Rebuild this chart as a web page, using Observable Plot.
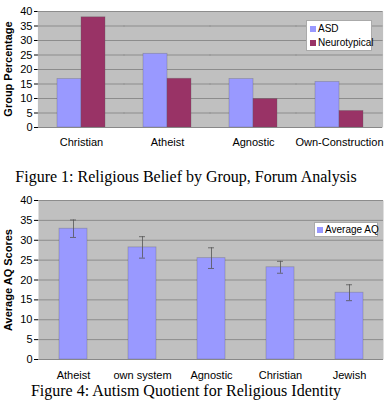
<!DOCTYPE html>
<html><head><meta charset="utf-8">
<script src="https://cdn.jsdelivr.net/npm/d3@7"></script>
<script src="https://cdn.jsdelivr.net/npm/@observablehq/plot@0.6"></script>
<style>
body{margin:0;background:#fff;}
#wrap{position:relative;width:390px;height:400px;overflow:hidden;font-family:"Liberation Sans",Arial,sans-serif;color:#000;}
.abs{position:absolute;}
.cap{font-family:"Liberation Serif","Times New Roman",serif;font-size:16px;white-space:nowrap;text-align:center;width:372px;left:0;line-height:18px;}
.ylab{font-weight:bold;font-size:11px;white-space:nowrap;transform:translate(-50%,-50%) rotate(-90deg);}
.legend{background:#fff;border:1px solid #aaa;font-size:10px;box-sizing:border-box;padding:1px 3px;line-height:14px;white-space:nowrap;}
.legend .sw{display:inline-block;width:6px;height:6px;margin-right:2px;vertical-align:0px;}
svg{overflow:visible}
</style></head>
<body><div id="wrap"></div>
<script>
// Figure 1 data
const beliefCategories = ["Christian", "Atheist", "Agnostic", "Own-Construction"];
const groups = ["ASD", "Neurotypical"];
const asdValues = [16.7, 25.4, 16.7, 15.7];
const neurotypicalValues = [38, 16.8, 9.8, 5.7];
const groupColors = ["#9999ff", "#993366"];
// Figure 4 data
const identityCategories = ["Atheist", "own system", "Agnostic", "Christian", "Jewish"];
const aqMeans = [32.9, 28.2, 25.5, 23.2, 16.8];
const aqErrors = [2.2, 2.7, 2.6, 1.5, 2.0];
const yTicks = [0, 5, 10, 15, 20, 25, 30, 35, 40];

const wrap = document.getElementById("wrap");
const font = {fontSize: "11px", fontFamily: "'Liberation Sans', Arial, sans-serif"};

function place(el, left, top) {
  el.classList.add("abs");
  el.style.left = left + "px";
  el.style.top = top + "px";
  wrap.appendChild(el);
  return el;
}

// ---------- Figure 1 ----------
const table1 = [];
beliefCategories.forEach((c, i) => {
  table1.push({category: c, group: groups[0], value: asdValues[i]});
  table1.push({category: c, group: groups[1], value: neurotypicalValues[i]});
});

const chart1 = Plot.plot({
  width: 390, height: 152,
  marginLeft: 37, marginRight: 8, marginTop: 11, marginBottom: 25,
  style: {...font, background: "transparent", color: "#000"},
  fx: {domain: beliefCategories, paddingInner: 0, paddingOuter: 0, axis: "bottom", tickSize: 0, tickPadding: 11, label: null},
  x: {domain: groups, paddingInner: 0, paddingOuter: 0.79, axis: null},
  y: {domain: [0, 40], ticks: yTicks, tickSize: 4, tickPadding: 2, label: null},
  color: {domain: groups, range: groupColors},
  marks: [
    Plot.frame({fill: "#c0c0c0", stroke: null, insetLeft: -0.6, insetRight: -0.6}),
    Plot.gridY(yTicks.filter(d => d > 0), {stroke: "#8c8c8c", strokeOpacity: 1, insetLeft: -0.6, insetRight: -0.6}),
    Plot.barY(table1, {fx: "category", x: "group", y: "value", fill: "group", stroke: "#555", strokeOpacity: 0.35, strokeWidth: 0.8}),
    Plot.ruleY([0], {stroke: "#888"})
  ]
});
place(chart1, 0, 0);

const ylab1 = document.createElement("div");
ylab1.className = "ylab";
ylab1.textContent = "Group Percentage";
place(ylab1, 8, 69);

const leg1 = document.createElement("div");
leg1.className = "legend";
leg1.style.width = "66px"; leg1.style.height = "31px";
leg1.innerHTML = groups.map((g, i) => `<div><span class="sw" style="background:${groupColors[i]}"></span>${g}</div>`).join("");
place(leg1, 306, 20);

const cap1 = document.createElement("div");
cap1.className = "cap";
cap1.textContent = "Figure 1: Religious Belief by Group, Forum Analysis";
place(cap1, 0, 168);

// ---------- Figure 4 ----------
const table2 = identityCategories.map((c, i) => ({category: c, mean: aqMeans[i], lo: aqMeans[i] - aqErrors[i], hi: aqMeans[i] + aqErrors[i]}));
const aqColor = "#9999ff";

const chart2 = Plot.plot({
  width: 390, height: 189,
  marginLeft: 38, marginRight: 7, marginTop: 8, marginBottom: 22,
  style: {...font, background: "transparent", color: "#000"},
  x: {domain: identityCategories, paddingInner: 0.6, paddingOuter: 0.3, tickSize: 0, tickPadding: 12, label: null},
  y: {domain: [0, 40], ticks: yTicks, tickSize: 4, tickPadding: 2, label: null},
  marks: [
    Plot.frame({fill: "#c0c0c0", stroke: null}),
    Plot.gridY(yTicks.filter(d => d > 0), {stroke: "#8c8c8c", strokeOpacity: 1}),
    Plot.barY(table2, {x: "category", y: "mean", fill: aqColor, stroke: "#555", strokeOpacity: 0.35, strokeWidth: 0.8}),
    Plot.ruleX(table2, {x: "category", y1: "lo", y2: "hi", stroke: "#555", strokeWidth: 0.8}),
    Plot.tickY(table2, {x: "category", y: "lo", stroke: "#555", strokeWidth: 0.8, insetLeft: 11, insetRight: 11}),
    Plot.tickY(table2, {x: "category", y: "hi", stroke: "#555", strokeWidth: 0.8, insetLeft: 11, insetRight: 11}),
    Plot.ruleY([0], {stroke: "#888"})
  ]
});
place(chart2, 0, 192);

const ylab2 = document.createElement("div");
ylab2.className = "ylab";
ylab2.textContent = "Average AQ Scores";
place(ylab2, 8, 280);

const leg2 = document.createElement("div");
leg2.className = "legend";
leg2.style.width = "64px"; leg2.style.height = "15px"; leg2.style.padding = "0 2px";
leg2.innerHTML = `<div><span class="sw" style="background:${aqColor}"></span>Average AQ</div>`;
place(leg2, 314, 222);

const cap2 = document.createElement("div");
cap2.className = "cap";
cap2.textContent = "Figure 4: Autism Quotient for Religious Identity";
place(cap2, 0, 382);
</script>
</body></html>
